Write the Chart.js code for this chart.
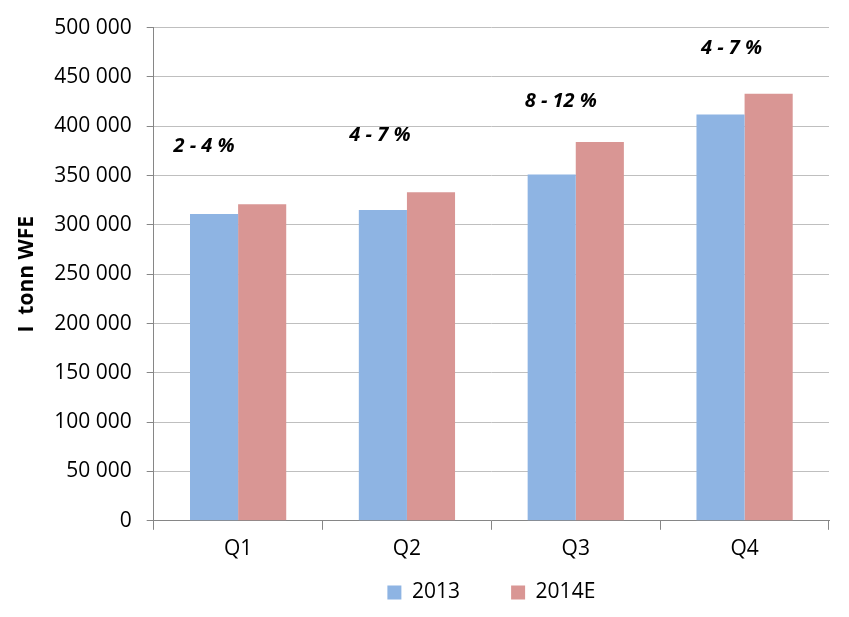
<!DOCTYPE html>
<html>
<head>
<meta charset="utf-8">
<script src="https://cdn.jsdelivr.net/npm/chart.js@4/dist/chart.umd.min.js"></script>
<style>
  html, body { margin: 0; padding: 0; background: #fff; }
  #wrap { width: 849px; height: 617px; }
</style>
</head>
<body>
<div id="wrap"><canvas id="myChart" width="849" height="617"></canvas></div>
<script>
var quarters = ['Q1', 'Q2', 'Q3', 'Q4'];
var values2013 = [311000, 315000, 351000, 412000];
var values2014 = [321000, 333000, 384000, 433000];
var growthText = ['2 - 4 %', '4 - 7 %', '8 - 12 %', '4 - 7 %'];
// where the growth notes sit, in axis units (y) and px offset from category centre (x)
var growthY = [380000, 391000, 425000, 479000];
var growthDx = [-34, -27, -15, -13];

var fontName = "'Open Sans', 'Liberation Sans', sans-serif";

// draws the italic growth notes above each quarter
var growthNotes = {
  id: 'growthNotes',
  afterDatasetsDraw: function(chart) {
    var c = chart.ctx;
    var xs = chart.scales.x;
    var ys = chart.scales.y;
    c.save();
    c.font = 'italic bold 20px ' + fontName;
    c.fillStyle = '#000';
    c.textAlign = 'center';
    c.textBaseline = 'middle';
    for (var i = 0; i < growthText.length; i++) {
      c.fillText(growthText[i], xs.getPixelForValue(i) + growthDx[i], ys.getPixelForValue(growthY[i]));
    }
    c.restore();
  }
};

// centre the legend under the plot area instead of the whole canvas
var legendUnderPlot = {
  id: 'legendUnderPlot',
  afterLayout: function(chart) {
    var lg = chart.legend;
    var a = chart.chartArea;
    var dx = (a.left + a.right) / 2 - (lg.left + lg.right) / 2;
    lg.left += dx;
    lg.right += dx;
  }
};

var ctx = document.getElementById('myChart');
var myChart = new Chart(ctx, {
  type: 'bar',
  data: {
    labels: quarters,
    datasets: [
      { label: '2013', data: values2013, backgroundColor: '#8EB4E3' },
      { label: '2014E', data: values2014, backgroundColor: '#D99694' }
    ]
  },
  options: {
    responsive: false,
    animation: false,
    layout: { padding: { top: 2, right: 20, left: 8, bottom: 4 } },
    datasets: { bar: { categoryPercentage: 0.57, barPercentage: 1.0 } },
    plugins: {
      legend: {
        position: 'bottom',
        labels: {
          font: { family: fontName, size: 21 },
          color: '#000',
          boxWidth: 14,
          boxHeight: 14,
          padding: 13,
          generateLabels: function(chart) {
            var items = Chart.defaults.plugins.legend.labels.generateLabels(chart);
            items[0].text = items[0].text + '       ';
            return items;
          }
        }
      },
      tooltip: { enabled: false }
    },
    scales: {
      x: {
        grid: { offset: true, drawOnChartArea: false, color: '#868686', tickLength: 9 },
        border: { color: '#868686' },
        ticks: { font: { family: fontName, size: 21 }, color: '#000', padding: 7 }
      },
      y: {
        min: 0,
        max: 500000,
        ticks: {
          stepSize: 50000,
          font: { family: fontName, size: 21 },
          color: '#000',
          padding: 15,
          callback: function(v) {
            return String(v).replace(/\B(?=(\d{3})+(?!\d))/g, ' ');
          }
        },
        grid: { color: '#BFBFBF', tickColor: '#868686', tickLength: 7 },
        border: { color: '#868686' },
        title: {
          display: true,
          text: 'I  tonn WFE',
          font: { family: fontName, size: 21, weight: 'bold' },
          color: '#000',
          padding: { top: 6, bottom: 0 }
        }
      }
    }
  },
  plugins: [growthNotes, legendUnderPlot]
});
</script>
</body>
</html>
